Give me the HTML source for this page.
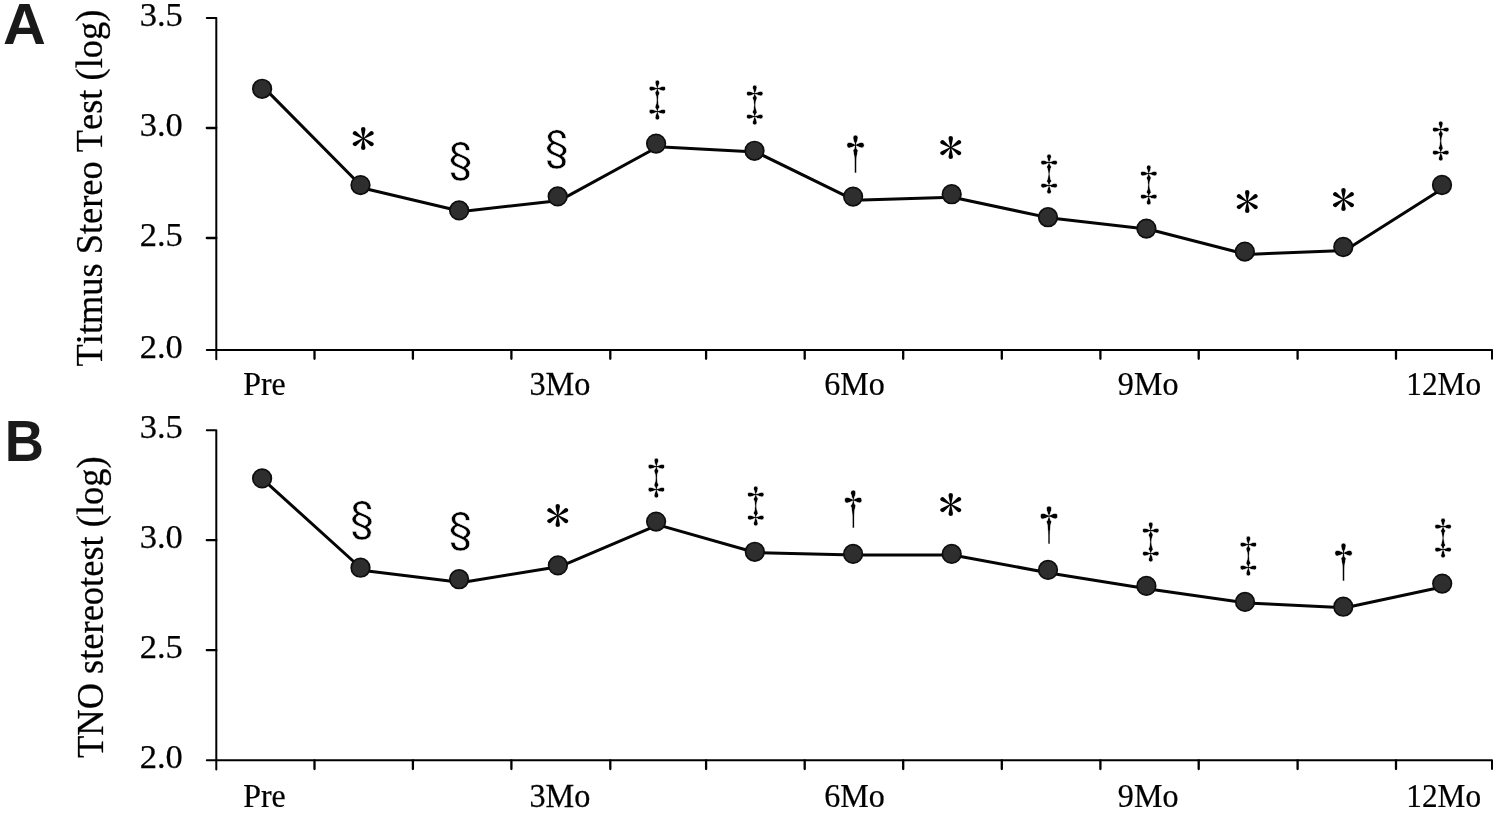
<!DOCTYPE html>
<html lang="en"><head><meta charset="utf-8"><title>Stereo test charts</title>
<style>
html,body{margin:0;padding:0;background:#fff}
svg{display:block;filter:blur(0.55px)}
.ax{fill:none;stroke:#000;stroke-width:2.0;stroke-linejoin:round;stroke-linecap:round}
.tm{stroke-width:2.3}
.ln{fill:none;stroke:#050505;stroke-width:3.0;stroke-linecap:round;stroke-linejoin:round}
.mk{fill:#2e2e2e;stroke:#0e0e0e;stroke-width:1.7}
.tk{font-family:"Liberation Serif", serif;font-size:34.5px;fill:#000;font-kerning:none;stroke:#000;stroke-width:0.25px}
.yl{font-family:"Liberation Serif", serif;font-size:36.5px;fill:#000;font-kerning:none;stroke:#000;stroke-width:0.25px}
.sy{font-family:IPAGothic,"Liberation Serif", serif;fill:#000}
.dg{stroke:#fff;stroke-width:0.5px}
.se{stroke:#fff;stroke-width:0.5px}
.as{stroke:none}
.pl{font-family:"Liberation Sans", sans-serif;font-weight:bold;fill:#1a1a1a}
</style></head>
<body>
<svg width="1499" height="813" viewBox="0 0 1499 813">
<rect width="1499" height="813" fill="#fff"/>
<path class="ax" d="M206.80 18.00H216.30V359.30"/>
<path class="ax" d="M206.80 350.10H1492.00V358.80"/>
<path class="ax tm" d="M206.80 128.00H216.30M206.80 238.00H216.30M314.50 350.10V358.80M412.90 350.10V358.80M511.40 350.10V358.80M610.30 350.10V358.80M706.10 350.10V358.80M804.70 350.10V358.80M903.20 350.10V358.80M1001.80 350.10V358.80M1100.40 350.10V358.80M1198.70 350.10V358.80M1297.60 350.10V358.80M1396.00 350.10V358.80"/>
<text class="tk" x="139.7" y="26.10">3.5</text>
<text class="tk" x="139.7" y="136.10">3.0</text>
<text class="tk" x="139.7" y="246.10">2.5</text>
<text class="tk" x="139.7" y="358.20">2.0</text>
<text class="tk" text-anchor="middle" transform="translate(264.40 394.60) scale(0.925 1)">Pre</text>
<text class="tk" text-anchor="middle" transform="translate(559.85 394.60) scale(0.935 1)">3Mo</text>
<text class="tk" text-anchor="middle" transform="translate(854.60 394.60) scale(0.93 1)">6Mo</text>
<text class="tk" text-anchor="middle" transform="translate(1148.15 394.60) scale(0.93 1)">9Mo</text>
<text class="tk" text-anchor="middle" transform="translate(1443.70 394.60) scale(0.906 1)">12Mo</text>
<text class="yl" text-anchor="middle" transform="translate(101.70 188.10) rotate(-90) scale(1 1.02)" textLength="356.70" lengthAdjust="spacingAndGlyphs">Titmus Stereo Test (log)</text>
<polyline class="ln" points="265.40,89.10 363.55,188.20 461.70,211.50 559.85,200.40 658.00,146.80 756.15,152.10 854.30,200.20 952.45,197.30 1050.60,218.10 1148.75,229.30 1246.90,254.50 1345.05,250.40 1443.20,188.30"/>
<circle class="mk" cx="262.10" cy="88.80" r="9.3"/>
<circle class="mk" cx="360.50" cy="185.10" r="9.3"/>
<circle class="mk" cx="459.10" cy="210.40" r="9.3"/>
<circle class="mk" cx="557.70" cy="196.40" r="9.3"/>
<circle class="mk" cx="656.10" cy="143.60" r="9.3"/>
<circle class="mk" cx="754.50" cy="150.80" r="9.3"/>
<circle class="mk" cx="853.10" cy="196.60" r="9.3"/>
<circle class="mk" cx="951.70" cy="194.20" r="9.3"/>
<circle class="mk" cx="1048.00" cy="217.20" r="9.3"/>
<circle class="mk" cx="1146.40" cy="228.60" r="9.3"/>
<circle class="mk" cx="1244.80" cy="251.60" r="9.3"/>
<circle class="mk" cx="1343.30" cy="247.00" r="9.3"/>
<circle class="mk" cx="1442.00" cy="185.00" r="9.3"/>
<text class="sy as" transform="translate(350.70 155.97) scale(1.1161 1)" font-size="44.80">*</text>
<text class="sy se" transform="translate(436.79 177.93) scale(1.0681 1)" font-size="44.58">§</text>
<text class="sy se" transform="translate(532.99 166.48) scale(1.0681 1)" font-size="44.58">§</text>
<text class="sy dg" transform="translate(638.00 116.30) scale(0.9281 1)" font-size="41.60">‡</text>
<text class="sy dg" transform="translate(735.40 120.90) scale(0.9281 1)" font-size="41.60">‡</text>
<text class="sy dg" transform="translate(836.58 169.55) scale(0.9008 1)" font-size="42.23">†</text>
<text class="sy as" transform="translate(938.30 164.62) scale(1.1161 1)" font-size="44.80">*</text>
<text class="sy dg" transform="translate(1029.70 189.70) scale(0.9281 1)" font-size="41.60">‡</text>
<text class="sy dg" transform="translate(1129.60 201.15) scale(0.9281 1)" font-size="41.60">‡</text>
<text class="sy as" transform="translate(1234.80 219.47) scale(1.1161 1)" font-size="44.80">*</text>
<text class="sy as" transform="translate(1330.90 217.22) scale(1.1161 1)" font-size="44.80">*</text>
<text class="sy dg" transform="translate(1421.60 157.45) scale(0.9281 1)" font-size="41.60">‡</text>
<path class="ax" d="M206.80 430.20H216.30V769.50"/>
<path class="ax" d="M206.80 760.30H1492.00V769.00"/>
<path class="ax tm" d="M206.80 540.20H216.30M206.80 650.20H216.30M314.50 760.30V769.00M412.90 760.30V769.00M511.40 760.30V769.00M610.30 760.30V769.00M706.10 760.30V769.00M804.70 760.30V769.00M903.20 760.30V769.00M1001.80 760.30V769.00M1100.40 760.30V769.00M1198.70 760.30V769.00M1297.60 760.30V769.00M1396.00 760.30V769.00"/>
<text class="tk" x="139.7" y="438.30">3.5</text>
<text class="tk" x="139.7" y="548.30">3.0</text>
<text class="tk" x="139.7" y="658.30">2.5</text>
<text class="tk" x="139.7" y="768.40">2.0</text>
<text class="tk" text-anchor="middle" transform="translate(264.40 807.10) scale(0.925 1)">Pre</text>
<text class="tk" text-anchor="middle" transform="translate(559.85 807.10) scale(0.935 1)">3Mo</text>
<text class="tk" text-anchor="middle" transform="translate(854.60 807.10) scale(0.93 1)">6Mo</text>
<text class="tk" text-anchor="middle" transform="translate(1148.15 807.10) scale(0.93 1)">9Mo</text>
<text class="tk" text-anchor="middle" transform="translate(1443.70 807.10) scale(0.906 1)">12Mo</text>
<text class="yl" text-anchor="middle" transform="translate(103.00 607.15) rotate(-90) scale(1 1.02)" textLength="301.60" lengthAdjust="spacingAndGlyphs">TNO stereotest (log)</text>
<polyline class="ln" points="265.40,481.60 363.55,570.50 461.70,582.50 559.85,566.60 658.00,524.90 756.15,552.75 854.30,555.05 952.45,554.95 1050.60,573.20 1148.75,589.05 1246.90,602.90 1345.05,607.70 1443.20,586.80"/>
<circle class="mk" cx="262.10" cy="478.40" r="9.3"/>
<circle class="mk" cx="360.50" cy="567.70" r="9.3"/>
<circle class="mk" cx="459.10" cy="579.20" r="9.3"/>
<circle class="mk" cx="557.90" cy="565.40" r="9.3"/>
<circle class="mk" cx="656.10" cy="521.60" r="9.3"/>
<circle class="mk" cx="754.80" cy="551.80" r="9.3"/>
<circle class="mk" cx="853.10" cy="553.90" r="9.3"/>
<circle class="mk" cx="951.70" cy="553.90" r="9.3"/>
<circle class="mk" cx="1048.00" cy="569.90" r="9.3"/>
<circle class="mk" cx="1146.40" cy="585.90" r="9.3"/>
<circle class="mk" cx="1245.00" cy="601.90" r="9.3"/>
<circle class="mk" cx="1343.30" cy="606.70" r="9.3"/>
<circle class="mk" cx="1442.20" cy="583.60" r="9.3"/>
<text class="sy se" transform="translate(338.19 537.33) scale(1.0681 1)" font-size="44.58">§</text>
<text class="sy se" transform="translate(436.79 548.38) scale(1.0681 1)" font-size="44.58">§</text>
<text class="sy as" transform="translate(545.20 533.17) scale(1.1161 1)" font-size="44.80">*</text>
<text class="sy dg" transform="translate(637.00 493.90) scale(0.9281 1)" font-size="41.60">‡</text>
<text class="sy dg" transform="translate(736.40 521.80) scale(0.9281 1)" font-size="41.60">‡</text>
<text class="sy dg" transform="translate(834.28 524.75) scale(0.9008 1)" font-size="42.23">†</text>
<text class="sy as" transform="translate(938.30 521.87) scale(1.1161 1)" font-size="44.80">*</text>
<text class="sy dg" transform="translate(1029.98 540.65) scale(0.9008 1)" font-size="42.23">†</text>
<text class="sy dg" transform="translate(1131.60 558.20) scale(0.9281 1)" font-size="41.60">‡</text>
<text class="sy dg" transform="translate(1229.10 572.15) scale(0.9281 1)" font-size="41.60">‡</text>
<text class="sy dg" transform="translate(1324.58 577.50) scale(0.9008 1)" font-size="42.23">†</text>
<text class="sy dg" transform="translate(1423.70 553.70) scale(0.9281 1)" font-size="41.60">‡</text>
<text class="pl" transform="translate(2.9 43.9) scale(1.033 1)" font-size="57.5">A</text>
<text class="pl" transform="translate(4.65 460.8) scale(0.936 1)" font-size="58">B</text>
</svg>
</body></html>
